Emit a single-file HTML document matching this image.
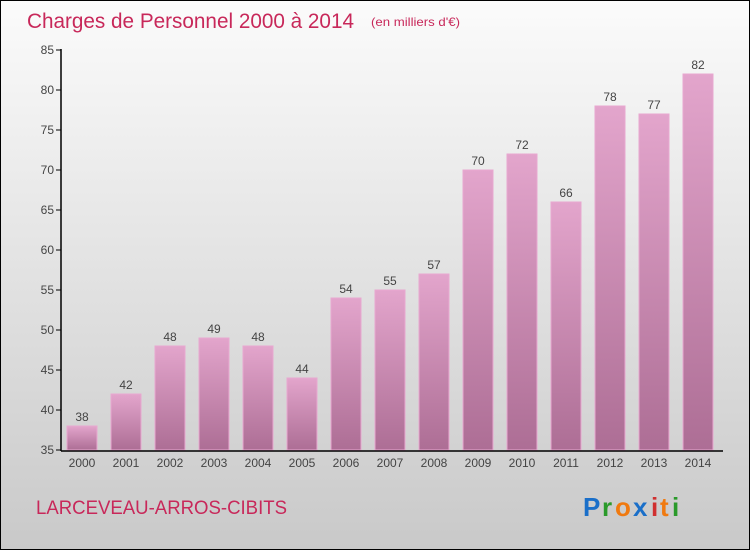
<!DOCTYPE html>
<html><head><meta charset="utf-8"><style>
body{margin:0}
#c{position:relative;width:748px;height:548px;border:1px solid #000;background:linear-gradient(#fbfbfb,#c9c9c9);font-family:"Liberation Sans",sans-serif;overflow:hidden}
</style></head><body>
<div id="c">
<svg width="748" height="548">
<defs><linearGradient id="g" x1="0" y1="0" x2="0" y2="1"><stop offset="0" stop-color="#e3a5cc"/><stop offset="1" stop-color="#ad6e95"/></linearGradient></defs>
<text x="26" y="27" font-size="21" fill="#c8285a" textLength="327" lengthAdjust="spacingAndGlyphs">Charges de Personnel 2000 à 2014</text>
<text x="370" y="25" font-size="12" fill="#c8285a" textLength="89" lengthAdjust="spacingAndGlyphs">(en milliers d'€)</text>
<g id="plot"></g>
<text x="35" y="513" font-size="19" fill="#c8285a" textLength="251" lengthAdjust="spacingAndGlyphs">LARCEVEAU-ARROS-CIBITS</text>
<g font-size="26" font-weight="bold">
<text x="582" y="515" fill="#1a6fc9">P</text><text x="601" y="515" fill="#2a9a2a">r</text><text x="614" y="515" fill="#f07a10">o</text><text x="632" y="515" fill="#1a6fc9">x</text><text x="650" y="515" fill="#d03030">i</text><text x="659" y="515" fill="#f07a10">t</text><text x="671" y="515" fill="#2a9a2a">i</text>
</g>
</svg></div>
<script>
const years=["2000","2001","2002","2003","2004","2005","2006","2007","2008","2009","2010","2011","2012","2013","2014"];
const values=[38,42,48,49,48,44,54,55,57,70,72,66,78,77,82];
const yTicks=[35,40,45,50,55,60,65,70,75,80,85];
const NS="http://www.w3.org/2000/svg";
const g=document.getElementById('plot');
const y=v=>449-(v-35)*8;
const x=i=>81+i*44;
function mk(t,a){const e=document.createElementNS(NS,t);for(const k in a)e.setAttribute(k,a[k]);g.appendChild(e);return e;}
yTicks.forEach(t=>{
 const l=mk('line',{x1:55,x2:60,y1:y(t),y2:y(t),stroke:'#000'});
 
 
 const tx=mk('text',{x:53,y:y(t)+4,'font-size':12,'text-anchor':'end',fill:'#444'});tx.textContent=t;
 
 
});
values.forEach((v,i)=>{
 const r=mk('rect',{x:x(i)-15,y:y(v),width:30,height:y(35)-y(v),fill:'url(#g)',stroke:'#e8a8d0','stroke-width':1});
 
 
 const t=mk('text',{x:x(i),y:y(v)-5,'font-size':12,'text-anchor':'middle',fill:'#444'});t.textContent=v;
 
 
 const xl=mk('text',{x:x(i),y:466,'font-size':12,'text-anchor':'middle',fill:'#444'});xl.textContent=years[i];
 
 
});
const ya=mk('line',{x1:60,x2:60,y1:48,y2:450,stroke:'#000','stroke-width':1.5});


const xa=mk('line',{x1:60,x2:722,y1:450,y2:450,stroke:'#000','stroke-width':1.5});


</script>
</body></html>
